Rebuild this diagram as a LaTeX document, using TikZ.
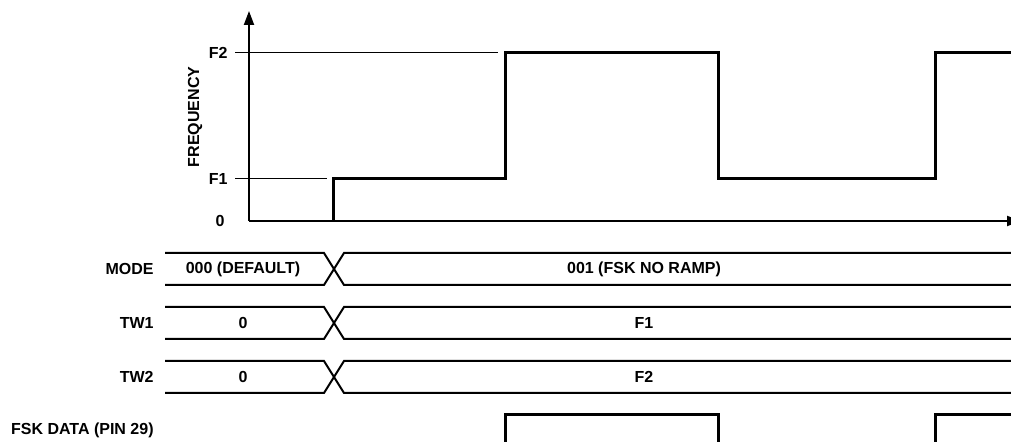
\documentclass[tikz,border=0pt]{standalone}
\usepackage{fontspec}
\setmainfont{Liberation Sans}
\usetikzlibrary{arrows.meta}

\begin{document}
\begin{tikzpicture}[
  x=0.5pt, y=-0.5pt,
  every node/.style={font=\fontsize{8}{9.6}\selectfont\bfseries, inner sep=1pt},
  axis/.style={line width=1pt, -{Triangle[length=7pt, width=5pt]}},
  tick/.style={line width=0.5pt},
  wave/.style={line width=1.5pt, line join=miter},
  bus/.style={line width=1pt},
  siglabel/.style={anchor=east}
]
\useasboundingbox (0,0) rectangle (1011,442);
% frequency vs time
\coordinate (origin) at (249,221);
\coordinate (ytop) at (249,11);
\coordinate (xend) at (1021,221);
\draw[axis] (origin) -- (ytop);
\draw[axis] (origin) -- (xend);
\node[siglabel] (levF2) at (230,53) {F2};
\node[siglabel] (levF1) at (230,179) {F1};
\node[siglabel] (levzero) at (227,221) {0};
\node[rotate=90] (freq) at (195,117) {FREQUENCY};
\draw[tick] (235,53) -- (498,53);
\draw[tick] (235,179) -- (327,179);
\draw[wave] (333,221) -- (333,179) -- (505,179) -- (505,53) -- (718,53)
  -- (718,179) -- (935,179) -- (935,53) -- (1011,53);
% register buses
\foreach \ytop/\sig/\vala/\valb [count=\i] in {253/MODE/000 (DEFAULT)/001 (FSK NO RAMP),
    307/TW1/0/F1, 361/TW2/0/F2} {
  \draw[bus] (165,\ytop) -- (324,\ytop) -- (344,\ytop+32) -- (1011,\ytop+32);
  \draw[bus] (165,\ytop+32) -- (324,\ytop+32) -- (344,\ytop) -- (1011,\ytop);
  \node[siglabel] (sig\i) at (156,\ytop+16) {\sig};
  \node (old\i) at (243,\ytop+16) {\vala};
  \node (new\i) at (644,\ytop+16) {\valb};
}
% FSK data pin
\node[siglabel] (fskdata) at (156,430) {FSK DATA (PIN 29)};
\draw[wave] (505,445) -- (505,415) -- (718,415) -- (718,445);
\draw[wave] (935,445) -- (935,415) -- (1011,415);
\end{tikzpicture}
\end{document}
